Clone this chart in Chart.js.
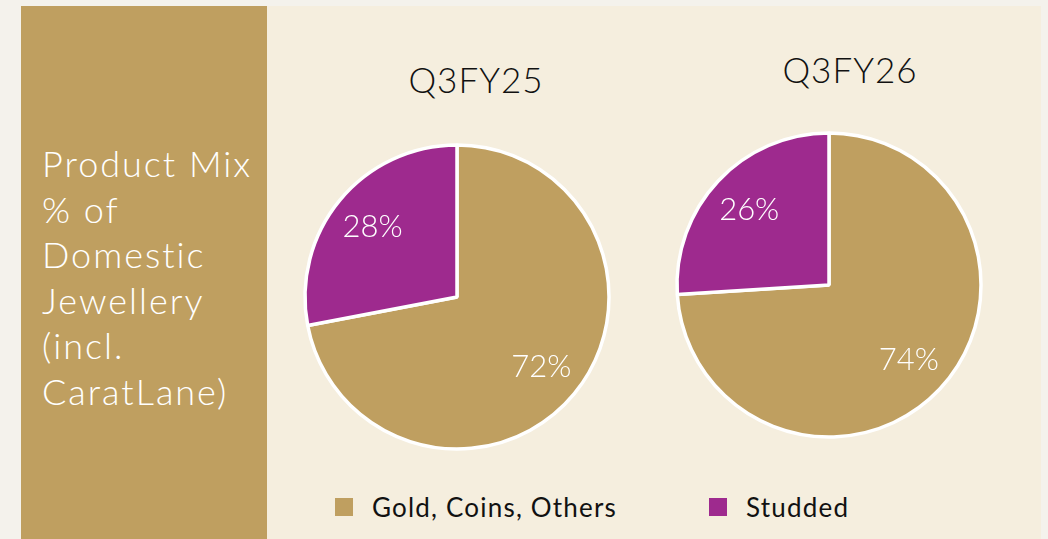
<!DOCTYPE html>
<html>
<head>
<meta charset="utf-8">
<script src="https://cdn.jsdelivr.net/npm/chart.js@4.4.1/dist/chart.umd.min.js"></script>
<style>
  html, body { margin: 0; padding: 0; }
  body {
    width: 1048px; height: 539px; overflow: hidden; position: relative;
    background: #f4f2ec; font-family: "Lato", sans-serif;
  }
  .side {
    position: absolute; left: 21px; top: 6px; width: 246px; height: 533px;
    background: #bf9f60;
  }
  .side-text {
    position: absolute; left: 42px; top: 141px; color: #fff;
    font-size: 36px; font-weight: 300; line-height: 45.5px; letter-spacing: 2px;
  }
  .panel {
    position: absolute; left: 267px; top: 6px; width: 774px; height: 533px;
    background: #f5eede;
  }
  .pie { position: absolute; width: 360px; height: 360px; }
  .title {
    position: absolute; width: 200px; text-align: center; color: #111;
    font-size: 35px; font-weight: 300; letter-spacing: 1px;
  }
  .legend-item {
    position: absolute; top: 491px; display: flex; align-items: center;
    font-size: 26px; color: #111; letter-spacing: 1.2px;
  }
  .legend-item span.box { width: 18px; height: 18px; margin-right: 19px; display: inline-block; }
</style>
</head>
<body>
<div class="side"></div>
<div class="side-text">Product Mix<br>% of<br>Domestic<br>Jewellery<br>(incl.<br>CaratLane)</div>
<div class="panel"></div>

<div class="title" id="title-0" style="left:376px; top:58px;"></div>
<div class="title" id="title-1" style="left:750px; top:48px;"></div>

<canvas id="pie-0" class="pie" style="left:277px; top:117px;"></canvas>
<canvas id="pie-1" class="pie" style="left:649px; top:105px;"></canvas>

<div id="legend"></div>

<script>
// data
const periods = ['Q3FY25', 'Q3FY26'];
const categories = ['Gold, Coins, Others', 'Studded'];
const goldShare = [72, 74];
const studdedShare = [28, 26];

const colours = ['#bf9f60', '#9e2a8e'];
const legendLeft = [335, 709];

// percentage labels inside each slice
const sliceLabels = {
    id: 'sliceLabels',
    afterDatasetsDraw(chart) {
        const ctx = chart.ctx;
        const meta = chart.getDatasetMeta(0);
        const values = chart.data.datasets[0].data;
        ctx.save();
        ctx.fillStyle = '#ffffff';
        ctx.font = '300 31px Lato';
        ctx.textAlign = 'center';
        ctx.textBaseline = 'middle';
        meta.data.forEach((arc, i) => {
            const p = arc.getProps(['x', 'y', 'startAngle', 'endAngle', 'outerRadius'], true);
            const mid = (p.startAngle + p.endAngle) / 2;
            const r = p.outerRadius * 0.72;
            ctx.fillText(values[i] + '%', p.x + Math.cos(mid) * r, p.y + Math.sin(mid) * r);
        });
        ctx.restore();
    }
};

periods.forEach((period, i) => {
    document.getElementById('title-' + i).textContent = period;
    new Chart(document.getElementById('pie-' + i), {
        type: 'pie',
        data: {
            labels: categories,
            datasets: [{
                data: [goldShare[i], studdedShare[i]],
                backgroundColor: colours,
                borderColor: '#ffffff',
                borderWidth: 3.5,
                hoverOffset: 0
            }]
        },
        options: {
            responsive: false,
            animation: false,
            radius: 152,
            layout: { padding: 0 },
            plugins: {
                legend: { display: false },
                tooltip: { enabled: false }
            }
        },
        plugins: [sliceLabels]
    });
});

// shared legend under both pies
const legend = document.getElementById('legend');
categories.forEach((name, i) => {
    const item = document.createElement('div');
    item.className = 'legend-item';
    item.style.left = legendLeft[i] + 'px';
    item.innerHTML = '<span class="box" style="background:' + colours[i] + '"></span>' + name;
    legend.appendChild(item);
});
</script>
</body>
</html>
